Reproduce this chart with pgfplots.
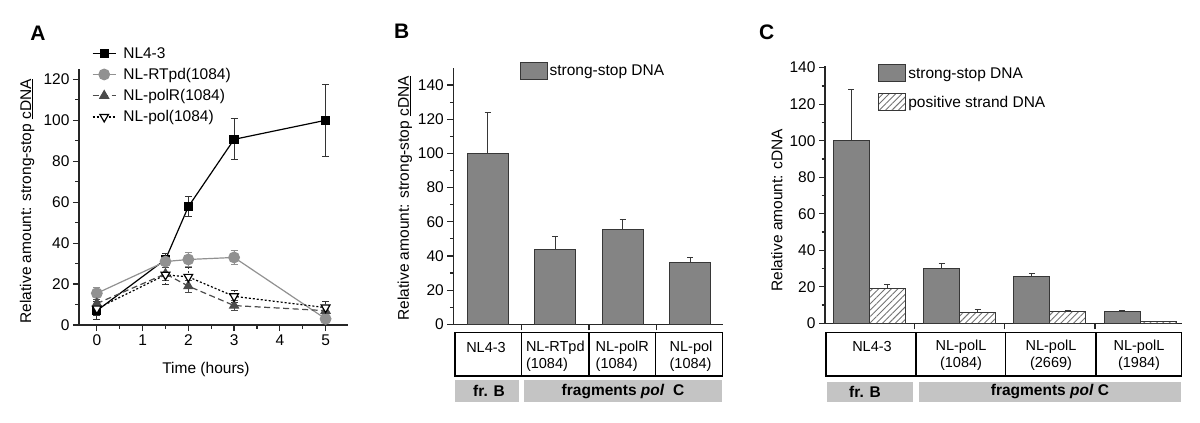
\documentclass[border=0pt]{standalone}
\usepackage{fontspec}
\setmainfont{Liberation Sans}
\usepackage{pgfplots}
\pgfplotsset{compat=1.18}
\usetikzlibrary{patterns.meta}
\definecolor{barfill}{RGB}{132,132,132}
\definecolor{bardraw}{RGB}{55,55,55}
\definecolor{band}{RGB}{196,196,196}
\definecolor{rtgray}{RGB}{145,145,145}
\definecolor{polrgray}{RGB}{75,75,75}
\newcommand{\fs}{\fontsize{15.5}{18}\selectfont}
\newcommand{\fst}{\fontsize{14.5}{16.6}\selectfont}
\pgfplotsset{
  common/.style={
    scale only axis,
    axis x line*=bottom, axis y line*=left,
    axis line style={line width=1.4pt, black!85},
    tick align=outside,
    major tick length=6pt, minor tick length=3.5pt,
    every tick/.style={line width=1.2pt, black!85},
    /pgf/number format/assume math mode=true,
    tick label style={font=\fs},
    label style={font=\fs},
    clip=false,
  },
  barlegend/.style={legend image code/.code={\draw[##1] (0pt,-8pt) rectangle (27pt,9pt);}},
  barerr/.style={error bars/.cd, y dir=plus, y explicit,
    error bar style={line width=1pt, draw=bardraw},
    error mark options={rotate=90, line width=1pt, mark size=3pt, draw=bardraw}},
  lineerr/.style={error bars/.cd, y dir=both, y explicit,
    error bar style={line width=0.9pt, draw=#1},
    error mark options={rotate=90, line width=0.9pt, mark size=3.5pt, draw=#1}},
}
\begin{document}
\begin{tikzpicture}
\useasboundingbox (0,0) rectangle (1200pt,423pt);
% ---------------- Panel A ----------------
\begin{axis}[common, at={(79pt,98pt)}, anchor=south west,
  x=45.75pt, y=2.047pt, xmin=-0.39, xmax=5.49, ymin=0, ymax=125,
  xtick={0,...,5}, ytick={0,20,...,120}, minor x tick num=1, minor y tick num=1,
  xlabel={Time (hours)}, ylabel={Relative amount: strong-stop \underline{cDNA}},
  xlabel style={at={(axis description cs:0.472,-0.172)}, anchor=center},
  ylabel style={at={(axis description cs:-0.193,0.484)}, anchor=center},
  legend cell align=left,
  legend style={at={(axis description cs:0.048,1.094)}, anchor=north west, draw=none, fill=none,
    font=\fs, row sep=4.5pt, column sep=5pt, inner sep=0pt},
  legend image code/.code={\draw[mark repeat=2,mark phase=2,#1] plot coordinates {(0pt,0pt) (11.5pt,0pt) (23pt,0pt)};},
]
\addplot[black, line width=1.2pt, mark=square*, mark size=4pt, lineerr=black!80]
  coordinates {(0,7) +- (0,4.5) (1.5,32) +- (0,3) (2,57.8) +- (0,5) (3,90.7) +- (0,10) (5,100) +- (0,17.5)};
\addlegendentry{NL4-3}
\addplot[rtgray, line width=1.2pt, mark=*, mark size=5.3pt, lineerr=rtgray]
  coordinates {(0,15.5) +- (0,3) (1.5,31) +- (0,3) (2,32) +- (0,3.5) (3,33) +- (0,3.5) (5,3) +- (0,1)};
\addlegendentry{NL-RTpd(1084)}
\addplot[polrgray, line width=1.2pt, dash pattern=on 6pt off 3.5pt, mark=triangle*, mark size=5pt, mark options={solid}, lineerr=polrgray]
  coordinates {(0,10.5) +- (0,2) (1.5,25) +- (0,3) (2,19) +- (0,3) (3,9.5) +- (0,2.5) (5,7) +- (0,2)};
\addlegendentry{NL-polR(1084)}
\addplot[black, line width=1.2pt, dash pattern=on 2pt off 2pt, mark=triangle*, mark size=5pt, mark options={solid, rotate=180, fill=white}, lineerr=black!80]
  coordinates {(0,8) +- (0,3.5) (1.5,24.5) +- (0,4.5) (2,23.5) +- (0,4.5) (3,14) +- (0,3) (5,8.5) +- (0,3)};
\addlegendentry{NL-pol(1084)}
\end{axis}
% ---------------- Panel B ----------------
\begin{axis}[common, at={(453.3pt,98.7pt)}, anchor=south west,
  x=67.5pt, y=1.709pt, xmin=-0.51, xmax=3.49, ymin=0, ymax=150,
  ytick={0,20,...,140}, minor y tick num=1, xtick={0.5,1.5,2.5}, xticklabels={},
  ybar, bar width=41pt,
  ylabel={Relative amount: strong-stop \underline{cDNA}},
  ylabel style={at={(axis description cs:-0.179,0.492)}, anchor=center},
  legend style={at={(axis description cs:0.245,1.025)}, anchor=north west, draw=none, fill=none,
    font=\fs, inner sep=0pt},
]
\addplot[fill=barfill, draw=bardraw, line width=1pt, barlegend, barerr]
  coordinates {(0,100) +- (0,23.8) (1,44) +- (0,7.3) (2,55.4) +- (0,6.2) (3,36) +- (0,3.2)};
\addlegendentry{strong-stop DNA}
\end{axis}
% ---------------- Panel C ----------------
\begin{axis}[common, at={(825pt,99.7pt)}, anchor=south west,
  x=90.3pt, y=1.826pt, xmin=-0.49, xmax=3.46, ymin=0, ymax=141,
  ytick={0,20,...,140}, minor y tick num=1, xtick={0.5,1.5,2.5}, xticklabels={},
  ybar=0pt, bar width=36pt,
  ylabel={Relative amount: cDNA},
  ylabel style={at={(axis description cs:-0.135,0.44)}, anchor=center},
  legend cell align=left,
  legend style={at={(axis description cs:0.149,1.006)}, anchor=north west, draw=none, fill=none,
    font=\fs, inner sep=0pt, row sep=11pt},
]
\addplot[fill=barfill, draw=bardraw, line width=1pt, barlegend, barerr]
  coordinates {(0,100) +- (0,27.8) (1,30.1) +- (0,2.8) (2,25.9) +- (0,1.5) (3,6.4) +- (0,0.5)};
\addlegendentry{strong-stop DNA}
\addplot[pattern={Lines[angle=45, distance=4.5pt, line width=0.9pt]}, pattern color=black!55, draw=bardraw, line width=1pt, barlegend, barerr]
  coordinates {(0,19.2) +- (0,2.1) (1,5.8) +- (0,1.5) (2,6.4) +- (0,0.5) (3,0.9) +- (0,0.3)};
\addlegendentry{positive strand DNA}
\end{axis}
% ---------------- Decorations ----------------
\begin{scope}[x=1pt, y=-1pt, shift={(0pt,423pt)}]
\node[font=\fontsize{21}{24}\bfseries\selectfont] at (38,33) {A};
\node[font=\fontsize{21}{24}\bfseries\selectfont] at (401.7,31.7) {B};
\node[font=\fontsize{21}{24}\bfseries\selectfont] at (766.7,32.3) {C};
% table B
\draw[line width=1.4pt] (455,332.3) rectangle (722.3,376);
\draw[line width=1.4pt] (521.7,332.3) -- (521.7,376) (589,332.3) -- (589,376) (655.7,332.3) -- (655.7,376);
\node[font=\fst] at (486,347.7) {NL4-3};
\node[font=\fst, align=left] at (555.3,356) {NL-RTpd\\(1084)};
\node[font=\fst, align=left] at (622.3,356) {NL-polR\\(1084)};
\node[font=\fst, align=left] at (691,356) {NL-pol\\(1084)};
\fill[band] (455,380) rectangle (519,402.3);
\fill[band] (524.3,380) rectangle (721.7,402.3);
\node[font=\fs\bfseries] at (489,391.2) {fr. B};
\node[font=\fs\bfseries] at (623,391.2) {fragments \textit{pol}\ \ C};
% table C
\draw[line width=1.4pt] (826,332.3) rectangle (1181.7,376);
\draw[line width=1.4pt] (916,332.3) -- (916,376) (1005.7,332.3) -- (1005.7,376) (1096,332.3) -- (1096,376);
\node[font=\fst] at (872,346.7) {NL4-3};
\node[font=\fst, align=center] at (961,355) {NL-polL\\(1084)};
\node[font=\fst, align=center] at (1051,355) {NL-polL\\(2669)};
\node[font=\fst, align=center] at (1139,355) {NL-polL\\(1984)};
\fill[band] (827.3,381.7) rectangle (913.3,402.3);
\fill[band] (919,381.7) rectangle (1181,402.3);
\node[font=\fs\bfseries] at (865,392) {fr. B};
\node[font=\fs\bfseries] at (1050,392) {fragments \textit{pol} C};
\end{scope}
\end{tikzpicture}
\end{document}
